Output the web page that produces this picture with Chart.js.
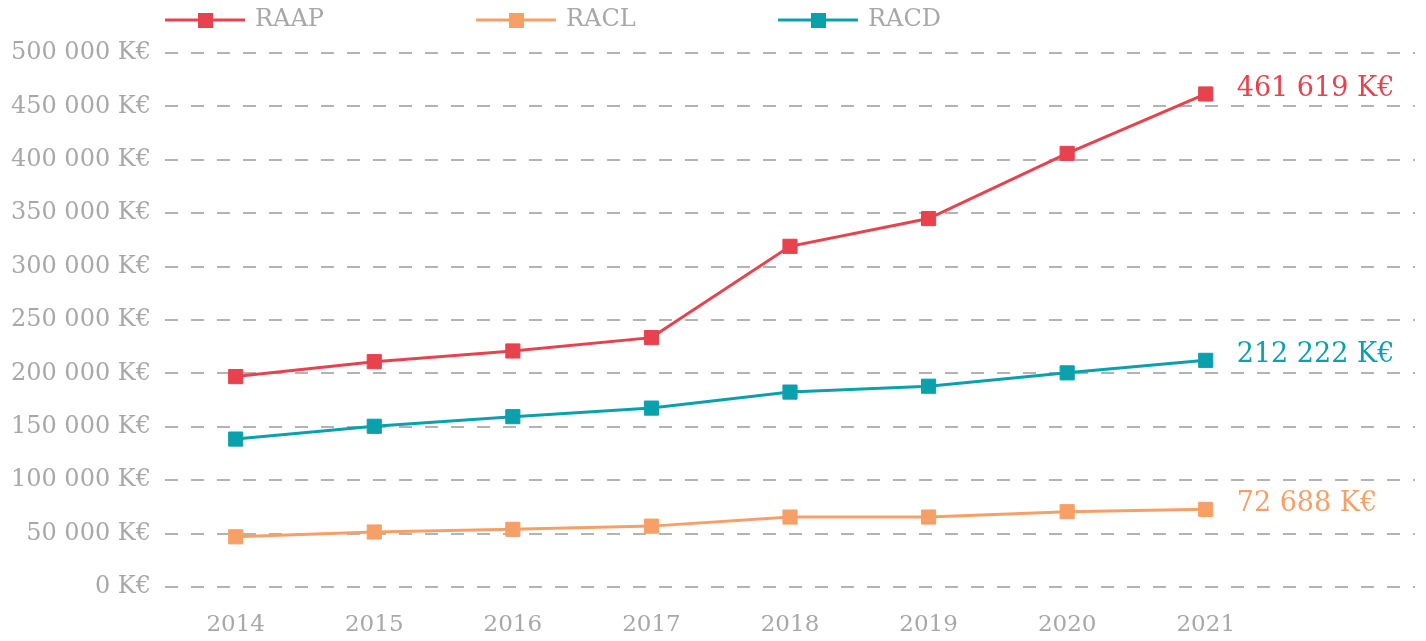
<!DOCTYPE html>
<html lang="fr">

<head>
    <meta charset="UTF-8">
    <title>RAAP / RACL / RACD</title>
    <script src="https://cdn.jsdelivr.net/npm/chart.js"></script>
    <style>
        * {
            margin: 0;
            padding: 0;
            box-sizing: border-box;
        }

        html,
        body {
            background-color: #fff;
            overflow: hidden;
        }

        .chart-box {
            width: 1426px;
            height: 641px;
        }
    </style>
</head>

<body>
    <div class="chart-box">
        <canvas id="lineChart"></canvas>
    </div>

    <script>
        // data
        const years = [2014, 2015, 2016, 2017, 2018, 2019, 2020, 2021];
        const raap = [197000, 211000, 221000, 233500, 319000, 345000, 406000, 461619];
        const racl = [47000, 51500, 54000, 57000, 65500, 65500, 70500, 72688];
        const racd = [138500, 150500, 159500, 167500, 182500, 188000, 200500, 212222];
        const yTicks = [0, 50000, 100000, 150000, 200000, 250000, 300000, 350000, 400000, 450000, 500000];

        const seriesNames = ['RAAP', 'RACL', 'RACD'];
        const seriesColors = ['#e8424e', '#f6a067', '#0aa1ad'];
        const textGray = '#a8a8a8';
        const fontFamily = "'DejaVu Serif', 'Liberation Serif', serif";

        function fmt(v) {
            return String(v).replace(/\B(?=(\d{3})+(?!\d))/g, ' ') + ' K€';
        }

        function makeSet(name, values, color) {
            return {
                label: name,
                data: years.map((y, i) => ({ x: y, y: values[i] })),
                borderColor: color,
                backgroundColor: color,
                borderWidth: 3,
                pointStyle: 'rect',
                pointRadius: 10,
                pointHoverRadius: 10,
                pointBorderWidth: 1,
                tension: 0
            };
        }

        // legend across the top: line + square + name
        const topLegend = {
            id: 'topLegend',
            afterDraw(chart) {
                const ctx = chart.ctx;
                const starts = [165, 476, 778];
                ctx.save();
                ctx.font = '24px ' + fontFamily;
                ctx.textBaseline = 'middle';
                seriesNames.forEach((name, i) => {
                    const x = starts[i];
                    const y = 20;
                    ctx.strokeStyle = seriesColors[i];
                    ctx.lineWidth = 3;
                    ctx.beginPath();
                    ctx.moveTo(x, y);
                    ctx.lineTo(x + 80, y);
                    ctx.stroke();
                    ctx.fillStyle = seriesColors[i];
                    ctx.fillRect(x + 33, y - 7, 15, 15);
                    ctx.fillStyle = textGray;
                    ctx.fillText(name, x + 90, y);
                });
                ctx.restore();
            }
        };

        // value label next to the last point of each line
        const endLabels = {
            id: 'endLabels',
            afterDatasetsDraw(chart) {
                const ctx = chart.ctx;
                ctx.save();
                ctx.font = '27px ' + fontFamily;
                ctx.textBaseline = 'middle';
                chart.data.datasets.forEach((ds, i) => {
                    const pts = chart.getDatasetMeta(i).data;
                    const last = pts[pts.length - 1];
                    const val = ds.data[ds.data.length - 1].y;
                    ctx.fillStyle = seriesColors[i];
                    ctx.fillText(fmt(val), last.x + 31, last.y - 5);
                });
                ctx.restore();
            }
        };

        const ctx = document.getElementById('lineChart').getContext('2d');
        const lineChart = new Chart(ctx, {
            type: 'line',
            data: {
                datasets: [
                    makeSet(seriesNames[0], raap, seriesColors[0]),
                    makeSet(seriesNames[1], racl, seriesColors[1]),
                    makeSet(seriesNames[2], racd, seriesColors[2])
                ]
            },
            options: {
                responsive: true,
                maintainAspectRatio: false,
                animation: false,
                layout: {
                    padding: { top: 53, right: 10, bottom: 0, left: 0 }
                },
                plugins: {
                    legend: { display: false },
                    tooltip: { enabled: false }
                },
                scales: {
                    x: {
                        type: 'linear',
                        min: 2013.49,
                        max: 2022.51,
                        afterFit(scale) { scale.height = 54; },
                        afterBuildTicks(scale) {
                            scale.ticks = years.map(v => ({ value: v }));
                        },
                        grid: { display: false, drawTicks: false },
                        border: { display: false },
                        ticks: {
                            padding: 24,
                            color: textGray,
                            font: { family: fontFamily, size: 23 },
                            maxRotation: 0,
                            autoSkip: false,
                            callback: v => String(v)
                        }
                    },
                    y: {
                        min: yTicks[0],
                        max: yTicks[yTicks.length - 1],
                        afterFit(scale) { scale.width = 165; },
                        afterBuildTicks(scale) {
                            scale.ticks = yTicks.map(v => ({ value: v }));
                        },
                        grid: {
                            color: '#b3b3b3',
                            lineWidth: 2,
                            drawTicks: false
                        },
                        border: { display: false, dash: [13, 13] },
                        ticks: {
                            padding: 14,
                            color: textGray,
                            font: { family: fontFamily, size: 24 },
                            callback: v => fmt(v)
                        }
                    }
                }
            },
            plugins: [topLegend, endLabels]
        });
    </script>
</body>

</html>
